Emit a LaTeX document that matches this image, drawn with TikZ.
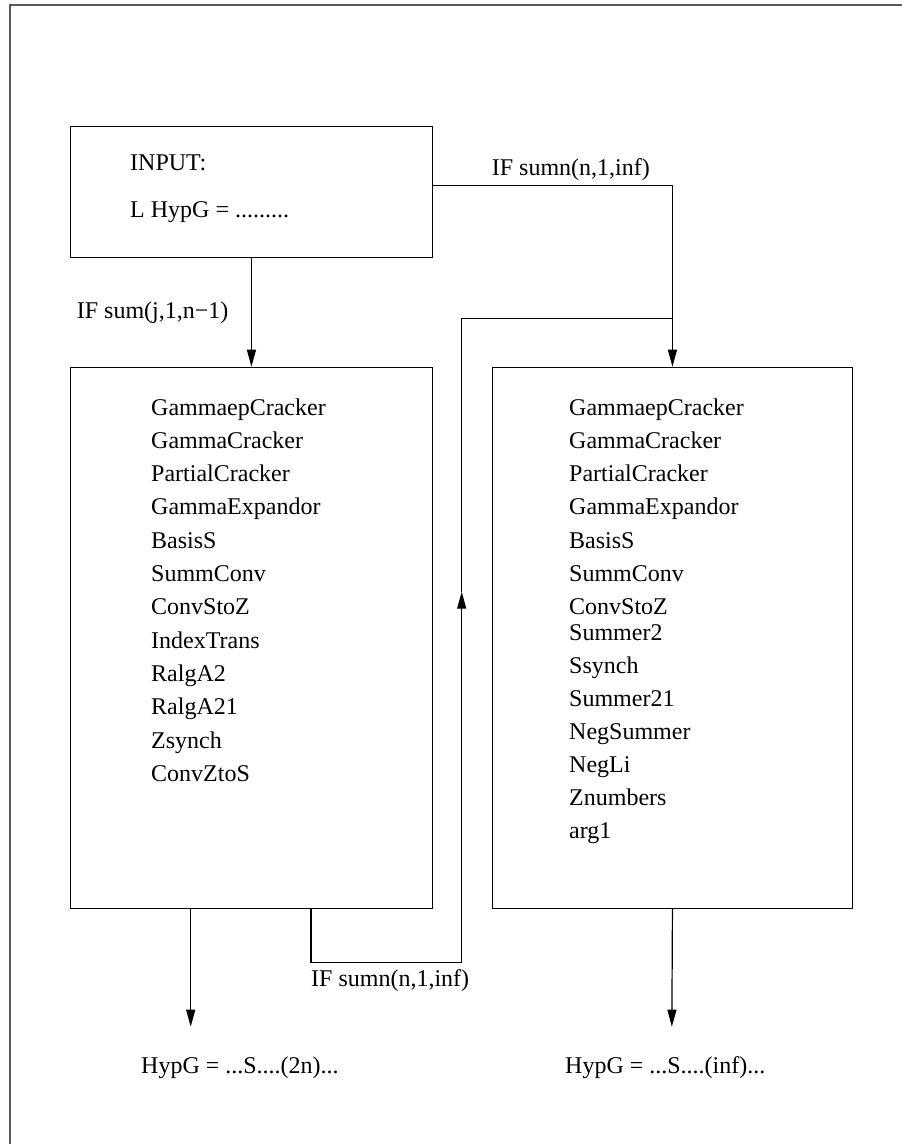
\documentclass[tikz,border=0pt]{standalone}
\usepackage{fontspec}
\setmainfont{Liberation Serif}
\usetikzlibrary{arrows.meta}
\begin{document}
\begin{tikzpicture}[x=1pt,y=-1pt,
  font=\fontsize{24}{28}\selectfont,
  box/.style={draw, line width=1.2pt, rectangle, inner sep=0pt, anchor=north west},
  lbl/.style={anchor=base west, inner sep=0pt},
  conn/.style={line width=1.2pt},
  arr/.style={line width=1.2pt, -{Triangle[length=17pt,width=9pt]}},
  frame/.style={line width=2pt, draw=black!65}]
\useasboundingbox (0,0) rectangle (902,1144);
\draw[frame] (10,1144) -- (10,5) -- (902,5);

% boxes
\node[box, minimum width=361.7pt, minimum height=131.3pt] (input) at (70,125.7) {};
\node[box, minimum width=361.7pt, minimum height=541.3pt] (left) at (70,366.7) {};
\node[box, minimum width=360.3pt, minimum height=541.3pt] (right) at (491.7,366.7) {};

% input texts
\node[lbl] (t1) at (130,170) {INPUT:};
\node[lbl] (t2) at (130,217) {L HypG = .........};

% left list
\foreach \t [count=\i from 0] in {GammaepCracker,GammaCracker,PartialCracker,GammaExpandor,BasisS,SummConv,ConvStoZ,IndexTrans,RalgA2,RalgA21,Zsynch,ConvZtoS}
  \node[lbl] (l\i) at (151,415+33.3*\i) {\t};

% right list
\foreach \t [count=\i from 0] in {GammaepCracker,GammaCracker,PartialCracker,GammaExpandor,BasisS,SummConv,ConvStoZ}
  \node[lbl] (r\i) at (569,415+33.3*\i) {\t};
\foreach \t [count=\i from 0] in {Summer2,Ssynch,Summer21,NegSummer,NegLi,Znumbers,arg1}
  \node[lbl] (s\i) at (569,640+33*\i) {\t};

% labels
\node[lbl] (ifj) at (76.7,318) {IF sum(j,1,n−1)};
\node[lbl] (ifn1) at (491.7,175) {IF sumn(n,1,inf)};
\node[lbl] (ifn2) at (311,986.7) {IF sumn(n,1,inf)};
\node[lbl] (outl) at (141,1073) {HypG = ...S....(2n)...};
\node[lbl] (outr) at (565,1073) {HypG = ...S....(inf)...};

% connectors
\draw[arr] (input.south) -- (left.north);
\coordinate (c1) at (431.7,185.7);
\draw[arr] (c1) -| (right.north);

\coordinate (d0) at (311,907.9);
\coordinate (d1) at (311,962.3);
\coordinate (d2) at (461.7,962.3);
\coordinate (d3) at (461.7,591.7);
\coordinate (d4) at (461.7,318.3);
\coordinate (d5) at (671.85,318.3);
\draw[conn] (d0) -- (d1) -- (d2);
\draw[arr] (d2) -- (d3);
\draw[conn] (d3) -- (d4) -- (d5);

\coordinate (b1) at (190.7,907.9);
\coordinate (b2) at (190.7,1026.7);
\draw[arr] (b1) -- (b2);
\coordinate (b3) at (671.85,1026.7);
\draw[arr] (right.south) -- (b3);
\end{tikzpicture}
\end{document}
